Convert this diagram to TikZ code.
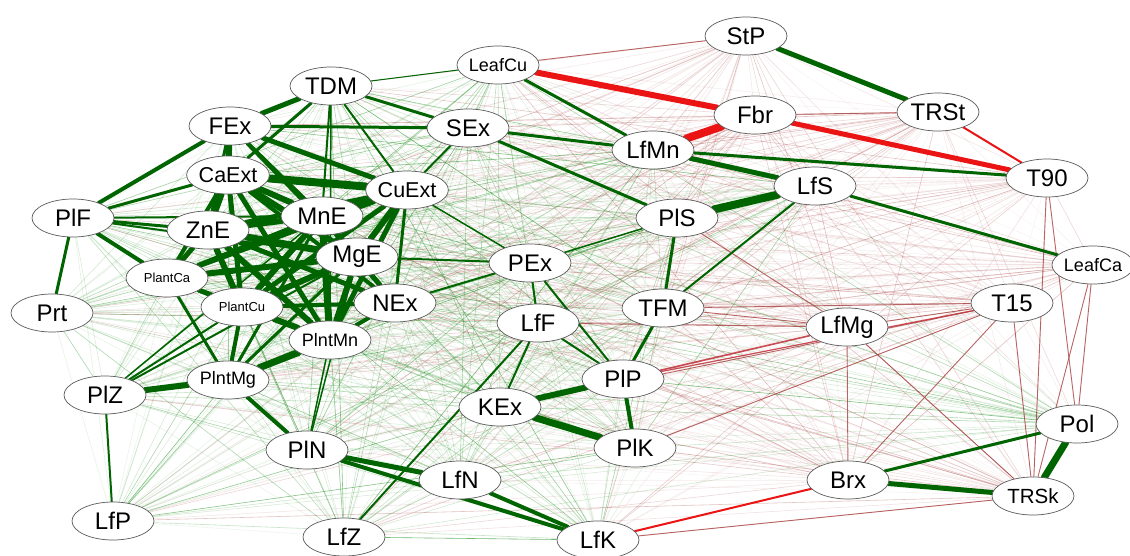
\documentclass[tikz,border=0pt]{standalone}
\usepackage{fontspec}
\setmainfont{Liberation Sans}
\usetikzlibrary{shapes.geometric}
\pgfdeclarelayer{bg}
\pgfsetlayers{bg,main}
\definecolor{sg}{RGB}{0,100,0}
\definecolor{fg}{RGB}{20,140,20}
\definecolor{fr}{RGB}{165,55,55}
\definecolor{sr}{RGB}{235,20,20}
\definecolor{mrc}{RGB}{195,50,60}
\begin{document}
\begin{tikzpicture}[x=1pt,y=-1pt,
 nd/.style={ellipse,draw=black!65,line width=0.7pt,fill=white,minimum width=82pt,minimum height=38pt,inner sep=0pt,font=\fontsize{24}{26}\selectfont},
 md/.style={nd,font=\fontsize{21.5}{23}\selectfont},
 sm/.style={nd,font=\fontsize{18}{20}\selectfont},
 tk/.style={nd,font=\fontsize{20.5}{22}\selectfont},
 ti/.style={nd,font=\fontsize{13}{15}\selectfont},
 ge/.style={draw=sg,line cap=round},
 re/.style={draw=sr,line cap=round},
 mr/.style={draw=fr,line width=0.9pt,opacity=0.75}]
\useasboundingbox (0,0) rectangle (1130,556);
% nodes
\node[nd] (TDM) at (331,86) {TDM};
\node[nd] (FEx) at (230,126) {FEx};
\node[md] (CaExt) at (228,175) {CaExt};
\node[nd] (ZnE) at (208,230) {ZnE};
\node[nd] (MnE) at (322,216) {MnE};
\node[nd] (MgE) at (357,257) {MgE};
\node[md] (CuExt) at (407,190) {CuExt};
\node[ti] (PlantCa) at (167,278) {PlantCa};
\node[ti] (PlantCu) at (242,307) {PlantCu};
\node[sm] (PlntMn) at (330,340) {PlntMn};
\node[sm] (PlntMg) at (228,380) {PlntMg};
\node[nd] (PlF) at (73,218) {PlF};
\node[nd] (Prt) at (52,313) {Prt};
\node[nd] (PlZ) at (105,395) {PlZ};
\node[nd] (PlN) at (307,450) {PlN};
\node[nd] (LfP) at (113,521) {LfP};
\node[nd] (LfZ) at (344,537) {LfZ};
\node[nd] (NEx) at (395,303) {NEx};
\node[nd] (SEx) at (468,128) {SEx};
\node[sm] (LeafCu) at (498,65) {LeafCu};
\node[nd] (PEx) at (530,263) {PEx};
\node[nd] (LfF) at (538,323) {LfF};
\node[nd] (TFM) at (663,308) {TFM};
\node[nd] (PlP) at (623,379) {PlP};
\node[nd] (KEx) at (500,407) {KEx};
\node[nd] (PlK) at (635,448) {PlK};
\node[nd] (LfN) at (460,480) {LfN};
\node[nd] (LfK) at (598,540) {LfK};
\node[nd] (PlS) at (677,218) {PlS};
\node[nd] (LfS) at (815,186) {LfS};
\node[nd] (LfMn) at (653,150) {LfMn};
\node[nd] (StP) at (746,36) {StP};
\node[nd] (TRSt) at (938,112) {TRSt};
\node[nd] (T90) at (1047,178) {T90};
\node[nd] (Fbr) at (755,115) {Fbr};
\node[sm] (LeafCa) at (1093,265) {LeafCa};
\node[nd] (T15) at (1012,303) {T15};
\node[nd] (LfMg) at (847,327) {LfMg};
\node[nd] (Pol) at (1077,424) {Pol};
\node[nd] (Brx) at (848,480) {Brx};
\node[tk] (TRSk) at (1033,496) {TRSk};
% edges
\def\AllN{TDM/0,FEx/0,CaExt/0,ZnE/0,MnE/0,MgE/0,CuExt/0,PlantCa/0,PlantCu/0,PlntMn/0,PlntMg/0,PlF/0,Prt/0,PlZ/0,PlN/0,LfP/0,LfZ/0,NEx/0,SEx/0,LeafCu/0,PEx/0,LfF/0,TFM/0,PlP/0,KEx/0,PlK/0,LfN/0,LfK/0,PlS/0,LfS/0,LfMn/0,Pol/0,StP/1,TRSt/1,T90/1,Fbr/1,LeafCa/1,T15/1,LfMg/1,Brx/1,TRSk/1}
\pgfmathsetseed{7}
\begin{pgfonlayer}{bg}
\fill[white] (0,0) rectangle (1130,556);
\foreach \a/\ga [count=\i] in \AllN {
  \foreach \b/\gb [count=\j] in \AllN {
    \ifnum\j>\i
      \ifnum\numexpr\ga+\gb\relax=0
        \pgfmathsetmacro\op{0.08+0.55*rnd*rnd}
        \draw[fg,opacity=\op,line width=0.6pt] (\a) -- (\b);
      \else
        \pgfmathsetmacro\op{0.05+0.36*rnd*rnd}
        \draw[fr,opacity=\op,line width=0.6pt] (\a) -- (\b);
      \fi
    \fi
  }
}
% medium brownish negative edges
\foreach \a/\b in {LfMg/Brx,T15/TRSk,T90/TRSk,LeafCa/TRSk,LeafCa/Pol,LfMg/TRSk,T15/Brx,T90/Pol,StP/LeafCu,TRSt/Fbr,LfMg/T15,TFM/T15,TFM/LfMg,PlK/T15,LfF/LfMg,KEx/T15,PlS/LfMg,LfK/TRSk}
  \draw[mr] (\a) -- (\b);
% strong positive edges
\foreach \a/\b/\w in {StP/TRSt/5,
 TDM/FEx/5,TDM/CaExt/3,TDM/SEx/3,TDM/CuExt/2,TDM/MnE/2,TDM/PlntMn/1.5,TDM/LeafCu/1,
 FEx/SEx/3,FEx/CuExt/5,FEx/CaExt/6,FEx/MnE/4,FEx/PlF/4,FEx/MgE/3,FEx/ZnE/3,
 CaExt/CuExt/8,CaExt/MnE/6,CaExt/ZnE/7,CaExt/MgE/6,CaExt/PlantCu/5,CaExt/PlntMn/5,CaExt/NEx/4,CaExt/PlF/3,CaExt/PlantCa/4,
 ZnE/MnE/6,ZnE/MgE/7,ZnE/PlantCa/5,ZnE/PlantCu/6,ZnE/PlntMn/6,ZnE/NEx/5,ZnE/CuExt/5,ZnE/PlF/3,
 MnE/CuExt/7,MnE/MgE/6,MnE/PlantCa/5,MnE/PlantCu/6,MnE/PlntMn/7,MnE/NEx/5,
 MgE/CuExt/6,MgE/PlantCa/6,MgE/PlantCu/6,MgE/PlntMn/6,MgE/NEx/4,
 CuExt/PlantCa/4,CuExt/PlantCu/5,CuExt/PlntMn/5,CuExt/NEx/3,CuExt/SEx/2,
 PlantCa/PlantCu/4,PlantCa/PlntMn/5,PlantCa/PlntMg/3,PlantCa/PlF/4,
 PlantCu/PlntMn/6,PlantCu/PlntMg/4,PlantCu/NEx/4,
 PlntMn/NEx/4,PlntMn/PlntMg/7,
 PlntMg/PlZ/6,PlntMg/PlN/4,PlntMg/MgE/3,PlntMg/MnE/3,
 PlZ/PlantCu/2,PlZ/MgE/2,PlZ/LfP/2,PlZ/MnE/1.5,
 PlF/Prt/3,PlF/MnE/2,PlF/MgE/2,
 NEx/PEx/2,MgE/PEx/2,CuExt/PEx/1.5,
 LeafCu/LfMn/3,SEx/LfMn/3,SEx/PlS/3,LfMn/LfS/5,LfMn/T90/3,LfS/PlS/8,LfS/LeafCa/3,LfS/TFM/2,
 PlS/TFM/3,PEx/PlS/1.5,PEx/LfF/2,PEx/PlP/2,LfF/KEx/2,LfF/PlP/2,TFM/PlP/3,PlP/PlK/4,
 KEx/PlP/6,KEx/PlK/7,LfZ/LfF/2,PlN/LfN/5,PlN/LfK/4,LfN/LfK/4,
 Brx/TRSk/5,Pol/TRSk/7,Brx/Pol/3,PlN/MgE/1.5,PlN/PlntMn/1.5}
  \draw[ge,line width=\w pt] (\a) -- (\b);
% strong negative edges
\foreach \a/\b/\w in {LeafCu/Fbr/6,Fbr/LfMn/8,Fbr/T90/5,TRSt/T90/2,LfK/Brx/2}
  \draw[re,line width=\w pt] (\a) -- (\b);
\foreach \a/\b/\w in {PlP/T15/1.2,PlP/LfMg/1.6}
  \draw[mrc,line width=\w pt,opacity=0.85] (\a) -- (\b);
\end{pgfonlayer}
\end{tikzpicture}
\end{document}
